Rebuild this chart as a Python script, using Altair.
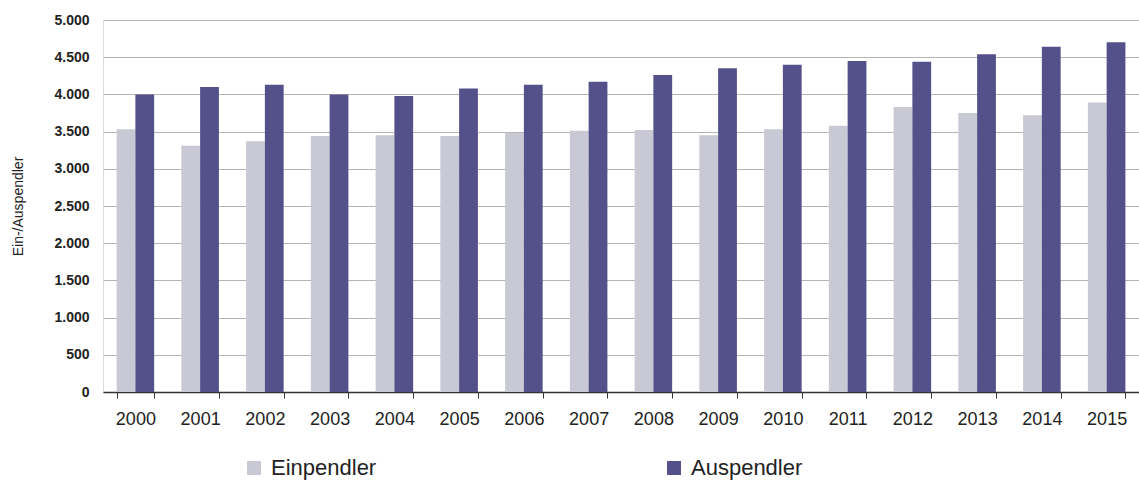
import altair as alt
import pandas as pd

years = [str(y) for y in range(2000, 2016)]
einpendler = [3530, 3310, 3370, 3440, 3450, 3440, 3480, 3510, 3520, 3450, 3530, 3580, 3830, 3750, 3720, 3890]
auspendler = [4000, 4100, 4130, 4000, 3980, 4080, 4130, 4170, 4260, 4350, 4400, 4450, 4440, 4540, 4640, 4700]
series = ["Einpendler", "Auspendler"]
colors = ["#c9c9d6", "#53508a"]
y_ticks = list(range(0, 5001, 500))

rows = []
for i, y in enumerate(years):
    rows.append({"Jahr": y, "Reihe": series[0], "Wert": einpendler[i]})
    rows.append({"Jahr": y, "Reihe": series[1], "Wert": auspendler[i]})
df = pd.DataFrame(rows)

narrow = "Liberation Sans Narrow, Arial Narrow, Liberation Sans, sans-serif"

chart = alt.Chart(df).mark_bar().encode(
    x=alt.X("Jahr:N", sort=years,
            scale=alt.Scale(paddingInner=0.42, paddingOuter=0.21),
            axis=alt.Axis(title=None, labelAngle=0, labelFont=narrow, labelFontSize=18,
                          labelColor="#222", labelPadding=12, tickBand="extent",
                          tickColor="#333", tickSize=6, domainColor="#333",
                          domainWidth=1.5, grid=False)),
    xOffset=alt.XOffset("Reihe:N", sort=series),
    y=alt.Y("Wert:Q", scale=alt.Scale(domain=[0, 5000], nice=False),
            axis=alt.Axis(values=y_ticks, title="Ein-/Auspendler",
                          labelExpr="replace(format(datum.value, ','), ',', '.')",
                          labelFont="Liberation Sans", labelFontSize=14, labelFontWeight="bold",
                          labelColor="#222", labelPadding=14, ticks=False, domain=False,
                          gridColor="#b5b5b5", gridWidth=1,
                          titleFont=narrow, titleFontSize=14, titleFontWeight="normal",
                          titleColor="#222", titleX=-85, titleY=186, titleAngle=270,
                          titleAlign="center", titleBaseline="middle")),
    color=alt.Color("Reihe:N", sort=series,
                    scale=alt.Scale(domain=series, range=colors),
                    legend=alt.Legend(title=None, orient="none", legendX=140, legendY=437,
                                      direction="horizontal", columns=2, columnPadding=286,
                                      symbolType="square", symbolSize=196, symbolStrokeWidth=0,
                                      labelFont=narrow, labelFontSize=22, labelColor="#222",
                                      labelOffset=6)),
).properties(
    width=1036, height=372,
    autosize=alt.AutoSizeParams(type="none"),
    padding={"left": 103, "top": 20, "right": 0, "bottom": 103},
).configure_view(
    stroke="#999", strokeWidth=1
).configure(background="white")

chart.save("out.html", embed_options={"renderer": "svg", "actions": False})
